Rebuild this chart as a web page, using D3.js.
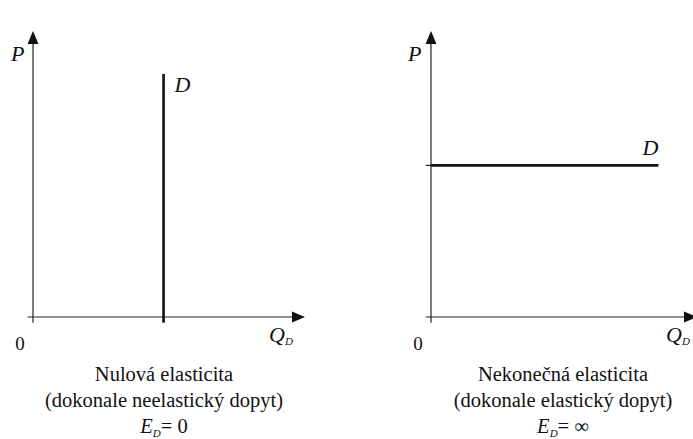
<!DOCTYPE html>
<html><head><meta charset="utf-8">
<script src="https://cdn.jsdelivr.net/npm/d3@7"></script>
<style>body{margin:0;background:#fff}svg{display:block}</style>
</head><body>
<script>
// Data
const panelIds = ["nulova", "nekonecna"];
const captionLine1 = ["Nulová elasticita", "Nekonečná elasticita"];
const captionLine2 = ["(dokonale neelastický dopyt)", "(dokonale elastický dopyt)"];
const elasticityValue = ["0", "∞"];
const demandKind = ["vertical", "horizontal"];
const demandQuantity = [4.8, null];   // fixed quantity for perfectly inelastic demand
const demandPrice = [null, 5.3];      // fixed price for perfectly elastic demand
const demandExtent = [[-0.2, 8.5], [-0.2, 8.55]];
const axisMax = 10;

const FONT = "'Liberation Serif', 'Times New Roman', Times, serif";
const W = 693, H = 439;
const svg = d3.select("body").append("svg").attr("width", W).attr("height", H)
  .attr("font-family", FONT).attr("fill", "#111");

const layout = [
  {x0: 33, x1: 305, y0: 317, y1: 31, cx: 164, zeroX: 20, qX: 269, pX: 11},
  {x0: 431, x1: 697, y0: 317, y1: 31, cx: 563, zeroX: 418, qX: 666, pX: 408}
];

panelIds.forEach((id, i) => {
  const L = layout[i];
  const x = d3.scaleLinear().domain([0, axisMax]).range([L.x0, L.x1]);
  const y = d3.scaleLinear().domain([0, axisMax]).range([L.y0, L.y1]);
  const g = svg.append("g").attr("id", id);
  const txt = () => g.append("text").attr("font-family", FONT).attr("fill", "#111");

  // axes
  g.append("line").attr("x1", x(-0.2)).attr("x2", x(axisMax) - 6).attr("y1", y(0)).attr("y2", y(0))
    .attr("stroke", "#222").attr("stroke-width", 1.2);
  g.append("line").attr("x1", x(0)).attr("x2", x(0)).attr("y1", y(-0.2)).attr("y2", y(axisMax) + 6)
    .attr("stroke", "#222").attr("stroke-width", 1.2);
  // arrowheads
  const tx = x(axisMax), ty = y(0);
  g.append("path").attr("d", `M${tx},${ty} L${tx-13},${ty-5.5} L${tx-13},${ty+5.5} Z`).attr("fill", "#111");
  const ax = x(0), ay = y(axisMax);
  g.append("path").attr("d", `M${ax},${ay} L${ax-5.5},${ay+13} L${ax+5.5},${ay+13} Z`).attr("fill", "#111");

  // demand curve
  let dLabel;
  if (demandKind[i] === "vertical") {
    const q = demandQuantity[i];
    g.append("line").attr("x1", x(q)).attr("x2", x(q))
      .attr("y1", y(demandExtent[i][0])).attr("y2", y(demandExtent[i][1]))
      .attr("stroke", "#111").attr("stroke-width", 2.6);
    dLabel = [x(q) + 11, y(demandExtent[i][1]) + 18];
  } else {
    const p = demandPrice[i];
    g.append("line").attr("x1", x(demandExtent[i][0])).attr("x2", x(0)).attr("y1", y(p)).attr("y2", y(p))
      .attr("stroke", "#222").attr("stroke-width", 1.2);
    g.append("line").attr("x1", x(0)).attr("x2", x(demandExtent[i][1])).attr("y1", y(p)).attr("y2", y(p))
      .attr("stroke", "#111").attr("stroke-width", 2.6);
    dLabel = [x(demandExtent[i][1]) - 16, y(p) - 10];
  }
  txt().attr("x", dLabel[0]).attr("y", dLabel[1]).attr("font-size", 22).attr("font-style", "italic").text("D");

  // axis labels
  txt().attr("x", L.pX).attr("y", 61).attr("font-size", 22).attr("font-style", "italic").text("P");
  txt().attr("x", L.zeroX).attr("y", 350).attr("font-size", 19).attr("text-anchor", "middle").text("0");
  const qt = txt().attr("x", L.qX).attr("y", 342).attr("font-size", 22).attr("font-style", "italic");
  qt.append("tspan").text("Q");
  qt.append("tspan").attr("font-size", 11).attr("dy", 3).text("D");

  // captions
  txt().attr("x", L.cx).attr("y", 381).attr("font-size", 20.5).attr("text-anchor", "middle").text(captionLine1[i]);
  txt().attr("x", L.cx).attr("y", 407).attr("font-size", 20.5).attr("text-anchor", "middle").text(captionLine2[i]);
  const et = txt().attr("x", L.cx).attr("y", 433).attr("font-size", 20.5).attr("text-anchor", "middle");
  et.append("tspan").attr("font-style", "italic").text("E");
  et.append("tspan").attr("font-size", 11).attr("font-style", "italic").attr("dy", 4).text("D");
  et.append("tspan").attr("dy", -4).text(i === 0 ? "= " + elasticityValue[i] : "=  " + elasticityValue[i]);
});
</script>
</body></html>
